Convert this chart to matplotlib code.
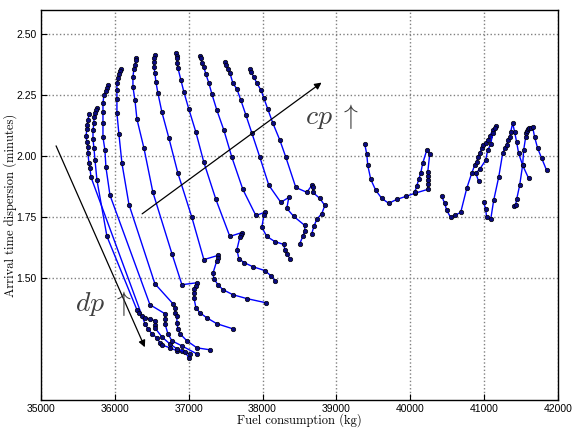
import matplotlib
matplotlib.use("Agg")
import matplotlib.pyplot as plt

plt.rcParams['mathtext.fontset'] = 'cm'

# ---- data: one list pair per cp curve (fuel kg, dispersion min) ----
a_fuel = [35650, 35636, 35622, 35622, 35609, 35622, 35636, 35636, 35649, 35663, 35677,
          36407, 36448, 36502, 36569, 36610, 36637, 36745, 36840, 36908, 37016]
a_disp = [2.173, 2.148, 2.128, 2.111, 2.082, 2.058, 2.037, 2.012, 1.971, 1.951, 1.914,
          1.313, 1.292, 1.272, 1.255, 1.235, 1.226, 1.214, 1.202, 1.202, 1.189]

b_fuel = [35758, 35744, 35731, 35717, 35717, 35704, 35704, 35717, 35731, 35758, 35893,
          36299, 36326, 36367, 36407, 36475, 36542, 36542, 36542, 36637, 36745, 36840, 36948, 37002]
b_disp = [2.198, 2.189, 2.177, 2.160, 2.136, 2.107, 2.070, 2.033, 1.984, 1.901, 1.671,
          1.370, 1.358, 1.346, 1.337, 1.333, 1.325, 1.309, 1.296, 1.259, 1.230, 1.210, 1.198, 1.173]

c_fuel = [35907, 35893, 35879, 35852, 35839, 35839, 35839, 35839, 35866, 35879, 35934,
          36475, 36678, 36678, 36678, 36718, 36772, 36908, 37111]
c_disp = [2.292, 2.280, 2.267, 2.251, 2.218, 2.181, 2.136, 2.078, 2.025, 1.955, 1.840,
          1.391, 1.354, 1.333, 1.313, 1.272, 1.243, 1.222, 1.189]

d_fuel = [36082, 36069, 36055, 36042, 36028, 36028, 36028, 36028, 36055, 36096, 36191,
          36542, 36786, 36813, 36813, 36840, 36840, 36854, 36881, 36975, 37111, 37287]
d_disp = [2.358, 2.350, 2.337, 2.321, 2.300, 2.272, 2.235, 2.177, 2.091, 1.971, 1.802,
          1.477, 1.395, 1.379, 1.358, 1.346, 1.317, 1.292, 1.272, 1.243, 1.214, 1.206]

e_fuel = [36285, 36285, 36272, 36258, 36245, 36245, 36272, 36299, 36394, 36515, 36772,
          36908, 37111, 37097, 37070, 37070, 37070, 37097, 37151, 37246, 37381, 37598]
e_disp = [2.403, 2.395, 2.374, 2.358, 2.325, 2.284, 2.230, 2.152, 2.033, 1.852, 1.601,
          1.473, 1.481, 1.469, 1.457, 1.440, 1.420, 1.379, 1.358, 1.337, 1.313, 1.292]

f_fuel = [36542, 36529, 36529, 36529, 36542, 36556, 36583, 36637, 36732, 36854, 37043,
          37205, 37395, 37395, 37381, 37327, 37341, 37395, 37462, 37598, 37787, 38044]
f_disp = [2.416, 2.403, 2.387, 2.366, 2.342, 2.305, 2.259, 2.181, 2.074, 1.930, 1.749,
          1.576, 1.593, 1.584, 1.572, 1.519, 1.498, 1.473, 1.453, 1.432, 1.416, 1.399]

g_fuel = [36827, 36840, 36840, 36840, 36854, 36894, 36935, 37002, 37097, 37205, 37368,
          37557, 37720, 37706, 37692, 37652, 37679, 37747, 37868, 38031, 38112, 38166]
g_disp = [2.424, 2.412, 2.403, 2.383, 2.362, 2.313, 2.263, 2.193, 2.099, 1.975, 1.823,
          1.671, 1.687, 1.675, 1.667, 1.617, 1.580, 1.564, 1.547, 1.531, 1.510, 1.490]

h_fuel = [37151, 37165, 37178, 37205, 37232, 37273, 37314, 37381, 37476, 37584, 37733,
          37909, 38031, 38017, 37990, 38058, 38166, 38288, 38301, 38328, 38369]
h_disp = [2.412, 2.403, 2.383, 2.366, 2.337, 2.300, 2.255, 2.189, 2.107, 1.996, 1.864,
          1.757, 1.770, 1.757, 1.708, 1.671, 1.650, 1.638, 1.617, 1.601, 1.580]

i_fuel = [37490, 37503, 37530, 37557, 37598, 37652, 37706, 37774, 37855, 37963, 38085,
          38247, 38355, 38328, 38423, 38572, 38572, 38545, 38504]
i_disp = [2.387, 2.374, 2.358, 2.342, 2.300, 2.276, 2.230, 2.169, 2.095, 1.996, 1.881,
          1.811, 1.831, 1.786, 1.753, 1.716, 1.695, 1.671, 1.642]

j_fuel = [37828, 37841, 37882, 37922, 37977, 38017, 38071, 38139, 38234, 38315, 38450,
          38599, 38667, 38680, 38680, 38775, 38843, 38802, 38734, 38694, 38667]
j_disp = [2.358, 2.346, 2.325, 2.300, 2.272, 2.239, 2.193, 2.136, 2.066, 1.996, 1.872,
          1.852, 1.881, 1.872, 1.852, 1.827, 1.798, 1.765, 1.741, 1.712, 1.683]

r1_fuel = [39384, 39411, 39424, 39465, 39533, 39614, 39708, 39817, 39938, 40060, 40236,
           40236, 40236, 40236, 40236, 40263, 40223, 40168, 40141, 40114, 40087, 40060]
r1_disp = [2.049, 2.008, 1.963, 1.905, 1.860, 1.827, 1.807, 1.823, 1.835, 1.848, 1.864,
           1.885, 1.901, 1.918, 1.934, 2.008, 2.025, 1.971, 1.930, 1.905, 1.877, 1.852]

r2_fuel = [40426, 40466, 40493, 40547, 40601, 40683, 40764, 40831, 40872, 40899, 40913,
           40940, 40967, 40980, 41021, 41048, 41075, 41116, 41156]
r2_disp = [1.835, 1.807, 1.778, 1.749, 1.757, 1.770, 1.868, 1.930, 1.963, 1.975, 1.996,
           2.012, 2.033, 2.045, 2.053, 2.066, 2.082, 2.107, 2.123]

r3_fuel = [40926, 40886, 40940, 41021, 41048, 41089, 41116, 41143]
r3_disp = [1.897, 1.930, 1.947, 1.984, 2.025, 2.049, 2.095, 2.115]

r4_fuel = [40994, 41021, 41034, 41089, 41129, 41197, 41251, 41278, 41305, 41319, 41346,
           41359, 41386, 41413, 41440, 41467, 41521, 41603]
r4_disp = [1.811, 1.782, 1.749, 1.741, 1.819, 1.914, 2.012, 2.033, 2.045, 2.066, 2.078,
           2.099, 2.136, 2.099, 2.058, 2.012, 1.963, 1.909]

r5_fuel = [41400, 41427, 41440, 41481, 41521, 41535, 41562, 41562, 41575, 41589, 41603,
           41630, 41657, 41684, 41724, 41779, 41846]
r5_disp = [1.794, 1.802, 1.823, 1.881, 1.963, 2.025, 2.078, 2.095, 2.103, 2.111, 2.115,
           2.115, 2.119, 2.078, 2.033, 1.992, 1.942]

curves = [(a_fuel, a_disp), (b_fuel, b_disp), (c_fuel, c_disp), (d_fuel, d_disp),
          (e_fuel, e_disp), (f_fuel, f_disp), (g_fuel, g_disp), (h_fuel, h_disp),
          (i_fuel, i_disp), (j_fuel, j_disp), (r1_fuel, r1_disp), (r2_fuel, r2_disp),
          (r3_fuel, r3_disp), (r4_fuel, r4_disp), (r5_fuel, r5_disp)]

x_ticks = [35000, 36000, 37000, 38000, 39000, 40000, 41000, 42000]
y_ticks = [1.50, 1.75, 2.00, 2.25, 2.50]
y_tick_labels = ["1.50", "1.75", "2.00", "2.25", "2.50"]

cp_arrow = ((36339, 1.757), (38829, 2.309))
dp_arrow = ((35189, 2.053), (36421, 1.206))

# ---- figure ----
fig = plt.figure(figsize=(5.73, 4.30), dpi=100)
ax = fig.add_axes([41 / 573, 30 / 430, 517 / 573, 390 / 430])

for fx, dy in curves:
    ax.plot(fx, dy, '-', color='#0000ff', lw=1.0, marker='o', ms=3.2,
            mfc='#0a0a80', mec='black', mew=0.5, zorder=3)

ax.annotate('', xy=cp_arrow[1], xytext=cp_arrow[0],
            arrowprops=dict(arrowstyle='-|>', color='black', lw=0.9, mutation_scale=10))
ax.annotate('', xy=dp_arrow[1], xytext=dp_arrow[0],
            arrowprops=dict(arrowstyle='-|>', color='black', lw=0.9, mutation_scale=10))

ax.text(38575, 2.165, r'$cp\ \uparrow$', fontsize=20, color='#404040', ha='left', va='center')
ax.text(35460, 1.395, r'$dp\ \uparrow$', fontsize=20, color='#404040', ha='left', va='center')

ax.set_xlim(35000, 42000)
ax.set_ylim(1.0, 2.6)
ax.set_xticks(x_ticks)
ax.set_xticklabels([str(v) for v in x_ticks])
ax.set_yticks(y_ticks)
ax.set_yticklabels(y_tick_labels)

for lab in ax.get_xticklabels() + ax.get_yticklabels():
    lab.set_fontfamily(['Liberation Sans', 'DejaVu Sans'])
    lab.set_fontsize(7.5)

ax.tick_params(direction='in', length=4, width=0.8, pad=3, top=False, right=False)
ax.grid(True, linestyle=':', color='#808080', lw=1.0)
ax.set_axisbelow(True)
for s in ax.spines.values():
    s.set_linewidth(1.0)
    s.set_color('black')

ax.set_xlabel('Fuel consumption (kg)', fontfamily='cmr10', fontsize=9)
ax.set_ylabel('Arrival time dispersion (minutes)', fontfamily='cmr10', fontsize=9)
ax.xaxis.set_label_coords(0.5, -0.033)
ax.yaxis.set_label_coords(-0.046, 0.5)

fig.savefig('out.png', dpi=100)
